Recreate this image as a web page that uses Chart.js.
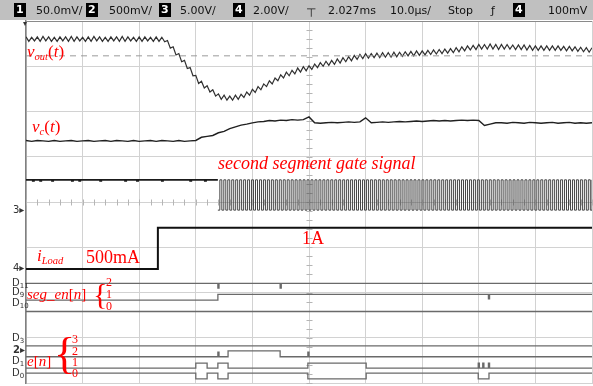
<!DOCTYPE html>
<html>
<head>
<meta charset="utf-8">
<script src="https://cdn.jsdelivr.net/npm/chart.js@4.4.1/dist/chart.umd.min.js"></script>
<style>
  body { margin: 0; background: #fff; }
  #wrap { position: relative; width: 593px; height: 386px; overflow: hidden; }
  #scope { position: absolute; left: 0; top: 0; }
  .hdr { position: absolute; left: 0; top: 0; width: 593px; height: 20px; background: #c0c0c0; font: 11px "DejaVu Sans", sans-serif; color: #111; }
  .hdr span { position: absolute; top: 4px; white-space: nowrap; }
  .hdr .box { background: #000; color: #fff; font-weight: bold; padding: 0 2px; top: 3px; line-height: 14px; }
  .lbl { position: absolute; color: #f00; font-family: "Liberation Serif", serif; line-height: 1; white-space: nowrap; }
  .lbl i { font-style: italic; }
  .lbl sub { font-size: 0.62em; vertical-align: -0.3em; line-height: 0; }
  .mk { position: absolute; font: 10px "DejaVu Sans", sans-serif; color: #333; line-height: 1; white-space: nowrap; }
  .mk sub { font-size: 7px; vertical-align: -2px; line-height: 0; }
</style>
</head>
<body>
<div id="wrap">
  <canvas id="scope" width="593" height="386"></canvas>

  <div class="hdr">
    <span class="box" style="left:14px">1</span><span style="left:36px">50.0mV/</span>
    <span class="box" style="left:86px">2</span><span style="left:109px">500mV/</span>
    <span class="box" style="left:159px">3</span><span style="left:180px">5.00V/</span>
    <span class="box" style="left:233px">4</span><span style="left:253px">2.00V/</span>
    <span style="left:306px;top:6px;font-size:12px">&#8868;</span>
    <span style="left:328px">2.027ms</span>
    <span style="left:390px">10.0&micro;s/</span>
    <span style="left:448px">Stop</span>
    <span style="left:491px">&#402;</span>
    <span class="box" style="left:513px">4</span><span style="left:548px">100mV</span>
  </div>

  <!-- left edge markers -->
  <div class="mk" style="left:23px;top:20px;font-size:8px">&#9662;</div>
  <div class="mk" style="left:13px;top:205px">3&#9656;</div>
  <div class="mk" style="left:13px;top:263px">4&#9656;</div>
  <div class="mk" style="left:12px;top:278px">D<sub>11</sub></div>
  <div class="mk" style="left:12px;top:287px">D<sub>9</sub></div>
  <div class="mk" style="left:12px;top:298px">D<sub>10</sub></div>
  <div class="mk" style="left:12px;top:333px">D<sub>3</sub></div>
  <div class="mk" style="left:13px;top:345px;font-weight:bold">2&#9656;</div>
  <div class="mk" style="left:12px;top:356px">D<sub>1</sub></div>
  <div class="mk" style="left:12px;top:368px">D<sub>0</sub></div>

  <!-- red annotations -->
  <div class="lbl" style="left:27px;top:43px;font-size:17px"><i>v<sub>out</sub></i>(<i>t</i>)</div>
  <div class="lbl" style="left:32px;top:118px;font-size:17px"><i>v<sub>c</sub></i>(<i>t</i>)</div>
  <div class="lbl" style="left:218px;top:154px;font-size:18px"><i>second segment gate signal</i></div>
  <div class="lbl" style="left:37px;top:247px;font-size:17px"><i>i<sub>Load</sub></i></div>
  <div class="lbl" style="left:86px;top:248px;font-size:18px">500mA</div>
  <div class="lbl" style="left:302px;top:229px;font-size:18px">1A</div>
  <div class="lbl" style="left:27px;top:287px;font-size:15px"><i>seg_en</i>[<i>n</i>]</div>
  <div class="lbl" style="left:93px;top:279px;font-size:30px">{</div>
  <div class="lbl" style="left:106px;top:276px;font-size:12px">2</div>
  <div class="lbl" style="left:106px;top:288px;font-size:12px">1</div>
  <div class="lbl" style="left:106px;top:300px;font-size:12px">0</div>
  <div class="lbl" style="left:27px;top:354px;font-size:15px"><i>e</i>[<i>n</i>]</div>
  <div class="lbl" style="left:54px;top:332px;font-size:44px">{</div>
  <div class="lbl" style="left:72px;top:333px;font-size:12px">3</div>
  <div class="lbl" style="left:72px;top:345px;font-size:12px">2</div>
  <div class="lbl" style="left:72px;top:356px;font-size:12px">1</div>
  <div class="lbl" style="left:72px;top:367px;font-size:12px">0</div>
</div>

<script>
// screen: 10 horizontal divisions (0..1000), 8 vertical divisions (0..8, bottom = 0)

// vout(t) - sampled every 5 units (ripple peaks and valleys)
var voutStep = 5;
var voutY = [
  7.65,7.55,7.64,7.56,7.65,7.55,7.66,7.56,7.65,7.55,
  7.64,7.55,7.65,7.56,7.65,7.55,7.66,7.55,7.65,7.56,
  7.64,7.55,7.65,7.55,7.66,7.56,7.65,7.55,7.64,7.55,
  7.65,7.56,7.65,7.55,7.66,7.55,7.65,7.56,7.64,7.55,
  7.65,7.55,7.65,7.56,7.64,7.55,7.65,7.55,7.64,7.54,
  7.57,7.40,7.43,7.25,7.28,7.10,7.13,6.95,6.97,6.79,6.80,
  6.62,6.67,6.52,6.57,6.43,6.48,6.34,6.39,6.27,6.36,6.25,6.34,
  6.25,6.36,6.27,6.38,6.31,6.43,6.36,6.49,6.42,6.55,6.48,6.61,6.55,6.68,
  6.61,6.74,6.68,6.81,6.74,6.87,6.79,6.91,6.83,6.96,6.87,6.99,6.90,7.01,
  6.93,7.05,6.97,7.08,7.00,7.11,7.02,7.13,7.04,7.16,
  7.07,7.19,7.10,7.21,7.12,7.24,7.15,7.26,7.17,7.28,
  7.18,7.28,7.19,7.29,7.19,7.30,7.20,7.30,7.20,7.31,
  7.21,7.31,7.22,7.32,7.23,7.33,7.23,7.34,7.24,7.34,
  7.25,7.35,7.26,7.36,7.27,7.37,7.28,7.38,7.29,7.39,
  7.30,7.41,7.32,7.43,7.34,7.45,7.36,7.46,7.37,7.48,
  7.38,7.48,7.38,7.49,7.38,7.48,7.37,7.48,7.38,7.48,
  7.38,7.47,7.37,7.47,7.37,7.47,7.36,7.46,7.35,7.45,
  7.35,7.45,7.35,7.45,7.35,7.45,7.35,7.45,7.35,7.44,
  7.34,7.44,7.34,7.43,7.33,7.42,7.32,7.41,7.31,7.41
];
var voutRef = 7.23; // dashed reference line

// vc(t) - sampled every 10 units
var vcStep = 10;
var vcY = [
  5.36,5.34,5.36,5.35,5.34,5.36,5.34,5.35,5.36,5.34,
  5.35,5.36,5.34,5.35,5.36,5.34,5.36,5.35,5.34,5.36,
  5.34,5.35,5.36,5.34,5.36,5.35,5.34,5.36,5.34,5.35,5.36,
  5.43,5.45,5.47,5.53,5.56,5.62,5.66,5.70,5.72,5.75,
  5.77,5.78,5.80,5.79,5.81,5.80,5.82,5.81,5.82,5.88,
  5.75,5.74,5.75,5.76,5.75,5.76,5.77,5.76,5.77,5.86,
  5.75,5.76,5.77,5.76,5.77,5.78,5.77,5.78,5.79,5.78,
  5.79,5.80,5.79,5.80,5.79,5.80,5.81,5.80,5.81,5.80,
  5.69,5.72,5.75,
  5.75,5.74,5.76,5.75,5.74,5.76,5.75,5.74,5.75,5.76,
  5.74,5.75,5.76,5.74,5.75,5.74,5.75
];

// second segment gate signal (ch3)
var gateHigh = 4.49;
var gateLow = 3.82;
// idle part before switching, with the small glitches seen on the trace
var gatePreX = [0, 12, 14, 25, 27, 46, 48, 81, 83, 94, 96, 131, 133, 175, 177, 196, 198, 240, 242, 290, 292, 316, 318, 339];
var gatePreY = [4.49, 4.47, 4.49, 4.47, 4.49, 4.47, 4.49, 4.47, 4.49, 4.47, 4.49, 4.47, 4.49, 4.47, 4.49, 4.47, 4.49, 4.47, 4.49, 4.47, 4.49, 4.47, 4.49, 4.49];
var gateStart = 339;   // switching begins here
var gateHalf = 3.5;    // one entry per half period
var gateBits = [
  0,1,0,1,0,1,0,1,0,1,0,1,0,1,0,1,0,1,0,1,
  0,1,0,1,0,1,0,1,0,1,0,1,0,1,0,1,0,1,0,1,
  0,1,0,1,0,1,0,1,0,1,0,1,0,1,0,1,0,1,0,1,
  0,1,0,1,0,1,0,1,0,1,0,1,0,1,0,1,0,1,0,1,
  0,1,0,1,0,1,0,1,0,1,0,1,0,1,0,1,0,1,0,1,
  0,1,0,1,0,1,0,1,0,1,0,1,0,1,0,1,0,1,0,1,
  0,1,0,1,0,1,0,1,0,1,0,1,0,1,0,1,0,1,0,1,
  0,1,0,1,0,1,0,1,0,1,0,1,0,1,0,1,0,1,0,1,
  0,1,0,1,0,1,0,1,0,1,0,1,0,1,0,1,0,1,0,1,
  0,1,0,1,0,1,0,1,0
];

// iLoad (ch4) step 500mA -> 1A
var iLoadX = [0, 233, 1000];
var iLoadY = [2.52, 3.43, 3.43];

// digital channels: seg_en[n] = D11 D9 D10, e[n] = D3 D2 D1 D0
var d11X = [0, 339, 341, 449, 451, 1000];
var d11Y = [2.20, 2.10, 2.20, 2.10, 2.20, 2.20];
var d9X = [0, 339, 817, 819, 1000];
var d9Y = [1.83, 1.96, 1.86, 1.96, 1.96];
var d10X = [0, 1000];
var d10Y = [1.58, 1.58];
var d3X = [0, 1000];
var d3Y = [0.82, 0.82];
var d2X = [0, 339, 341, 357, 449, 498, 500, 1000];
var d2Y = [0.58, 0.68, 0.58, 0.71, 0.58, 0.68, 0.58, 0.58];
var d1X = [0, 300, 320, 339, 357, 498, 601, 799, 801, 807, 809, 817, 819, 1000];
var d1Y = [0.33, 0.44, 0.33, 0.44, 0.33, 0.44, 0.33, 0.44, 0.33, 0.44, 0.33, 0.44, 0.33, 0.33];
var d0X = [0, 300, 320, 339, 357, 498, 601, 799, 818, 1000];
var d0Y = [0.22, 0.09, 0.22, 0.09, 0.22, 0.09, 0.22, 0.09, 0.22, 0.22];

function zipXY(xs, ys) {
  return xs.map(function (x, i) { return { x: x, y: ys[i] }; });
}

function sampled(ys, step) {
  return ys.map(function (y, i) { return { x: i * step, y: y }; });
}

function gatePoints() {
  var pts = [];
  gateBits.forEach(function (b, i) {
    pts.push({ x: gateStart + i * gateHalf, y: b ? gateHigh : gateLow });
  });
  pts.push({ x: 1000, y: gateHigh });
  return pts;
}

// stepped 'before': level of a point holds until the next point
function digital(xs, ys) {
  return {
    data: zipXY(xs, ys), stepped: 'before',
    borderColor: '#6a6a6a', borderWidth: 1.3, pointRadius: 0
  };
}

// center-axis minor ticks and top frame line
var scopeDecor = {
  id: 'scopeDecor',
  beforeDatasetsDraw: function (chart) {
    var ctx = chart.ctx, x = chart.scales.x, y = chart.scales.y, a = chart.chartArea;
    ctx.save();
    ctx.strokeStyle = '#b5b5b5';
    ctx.lineWidth = 1;
    var cx = Math.round(x.getPixelForValue(500)) + 0.5;
    var cy = Math.round(y.getPixelForValue(4)) + 0.5;
    ctx.beginPath();
    for (var v = 0; v <= 8.001; v += 0.2) {
      var py = Math.round(y.getPixelForValue(v)) + 0.5;
      ctx.moveTo(cx - 3, py); ctx.lineTo(cx + 3, py);
    }
    for (var u = 0; u <= 1000; u += 20) {
      var px = Math.round(x.getPixelForValue(u)) + 0.5;
      ctx.moveTo(px, cy - 3); ctx.lineTo(px, cy + 3);
    }
    ctx.stroke();
    ctx.strokeStyle = '#8a8a8a';
    ctx.beginPath();
    ctx.moveTo(a.left, a.top + 0.5); ctx.lineTo(a.right, a.top + 0.5);
    ctx.stroke();
    ctx.restore();
  }
};

new Chart(document.getElementById('scope'), {
  type: 'line',
  data: {
    datasets: [
      { data: [{ x: 0, y: voutRef }, { x: 1000, y: voutRef }], borderColor: '#9a9a9a', borderWidth: 1, borderDash: [6, 5], pointRadius: 0 },
      { data: sampled(voutY, voutStep), borderColor: '#303030', borderWidth: 1.2, pointRadius: 0 },
      { data: sampled(vcY, vcStep), borderColor: '#202020', borderWidth: 1.4, pointRadius: 0 },
      { data: zipXY(gatePreX, gatePreY), stepped: 'before', borderColor: '#1a1a1a', borderWidth: 1.8, pointRadius: 0 },
      { data: gatePoints(), stepped: 'before', borderColor: '#444', borderWidth: 1, pointRadius: 0 },
      { data: zipXY(iLoadX, iLoadY), stepped: 'before', borderColor: '#111', borderWidth: 2, pointRadius: 0 },
      digital(d11X, d11Y),
      digital(d9X, d9Y),
      digital(d10X, d10Y),
      digital(d3X, d3Y),
      digital(d2X, d2Y),
      digital(d1X, d1Y),
      digital(d0X, d0Y)
    ]
  },
  options: {
    responsive: false,
    animation: false,
    devicePixelRatio: 1,
    layout: { padding: { left: 26, top: 21, right: 1, bottom: 3 } },
    plugins: { legend: { display: false }, tooltip: { enabled: false } },
    scales: {
      x: {
        type: 'linear', min: 0, max: 1000,
        ticks: { display: false, stepSize: 100 },
        grid: { color: '#d2d2d2', drawTicks: false },
        border: { color: '#d2d2d2' }
      },
      y: {
        type: 'linear', min: 0, max: 8,
        ticks: { display: false, stepSize: 1 },
        grid: { color: '#d2d2d2', drawTicks: false },
        border: { color: '#808080', width: 1.5 }
      }
    }
  },
  plugins: [scopeDecor]
});
</script>
</body>
</html>
